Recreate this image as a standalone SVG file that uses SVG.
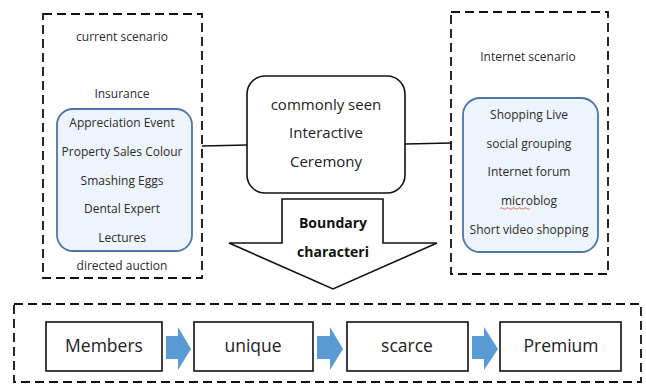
<svg xmlns="http://www.w3.org/2000/svg" width="646" height="385" viewBox="0 0 646 385">
<style>
.dash{fill:none;stroke:#111;stroke-width:1.8;stroke-dasharray:9 5}
.blue{fill:#eef4fb;stroke:#4d76a8;stroke-width:1.8}
.t{font-family:"Open Sans","Noto Sans",sans-serif;font-size:12px;fill:#2b2b2b;text-anchor:middle}
.c{font-family:"Open Sans","Noto Sans",sans-serif;font-size:15px;fill:#222;text-anchor:middle}
.b{font-family:"Open Sans","Noto Sans",sans-serif;font-size:14px;font-weight:bold;fill:#111;text-anchor:middle}
.box{fill:#fff;stroke:#111;stroke-width:1.6}
.bt{font-family:"Open Sans","Noto Sans",sans-serif;font-size:17.5px;fill:#222;text-anchor:middle}
.arr{fill:#5b9bd5}
.ln{fill:none;stroke:#111;stroke-width:1.6}
</style>
<rect width="646" height="385" fill="#fff"/>
<g id="current-scenario">
<rect class="dash" x="43" y="14" width="159" height="264"/>
<text class="t" x="122" y="41">current scenario</text>
<text class="t" x="122" y="98">Insurance</text>
<rect class="blue" x="57" y="109" width="135" height="142" rx="16"/>
<text class="t" x="122" y="127">Appreciation Event</text>
<text class="t" x="122" y="156">Property Sales Colour</text>
<text class="t" x="122" y="185">Smashing Eggs</text>
<text class="t" x="122" y="213">Dental Expert</text>
<text class="t" x="122" y="242">Lectures</text>
<text class="t" x="122" y="270">directed auction</text>
</g>
<g id="internet-scenario">
<rect class="dash" x="451" y="12" width="157" height="262"/>
<text class="t" x="528" y="61">Internet scenario</text>
<rect class="blue" x="463" y="98" width="135" height="154" rx="17"/>
<text class="t" x="529" y="119">Shopping Live</text>
<text class="t" x="529" y="148">social grouping</text>
<text class="t" x="529" y="176">Internet forum</text>
<text class="t" x="529" y="205">microblog</text>
<path d="M500 208.5 q1.5 -1.5 3 0 t3 0 t3 0 t3 0 t3 0 t3 0 t3 0 t3 0 t3 0 t3 0" fill="none" stroke="#e04040" stroke-width="0.8"/>
<text class="t" x="529" y="234">Short video shopping</text>
</g>
<g id="interactive-ceremony">
<rect class="box" x="247" y="76" width="158" height="117" rx="18"/>
<text class="c" x="326" y="110">commonly seen</text>
<text class="c" x="326" y="138">Interactive</text>
<text class="c" x="326" y="167">Ceremony</text>
</g>
<g id="boundary">
<path class="box" d="M282 199 H383 V243 H437 L333 289 L229 243 H282 Z"/>
<text class="b" x="333" y="228">Boundary</text>
<text class="b" x="333" y="257">characteri</text>
</g>
<g id="chain">
<rect class="dash" x="14" y="304" width="627" height="78"/>
<g id="members"><rect class="box" x="46" y="322" width="116" height="49"/><text class="bt" x="104" y="352">Members</text></g>
<g id="unique"><rect class="box" x="194" y="322" width="119" height="49"/><text class="bt" x="253" y="352">unique</text></g>
<g id="scarce"><rect class="box" x="347" y="322" width="121" height="49"/><text class="bt" x="407" y="352">scarce</text></g>
<g id="premium"><rect class="box" x="500" y="322" width="121" height="49"/><text class="bt" x="561" y="352">Premium</text></g>
</g>
<g id="connectors">
<path class="ln" d="M202 146 L247 145"/>
<path class="ln" d="M405 144 L451 143"/>
<path class="arr" d="M166 336 H178 V327 L191 349 L178 370 V359 H166 Z"/>
<path class="arr" d="M317 336 H330 V327 L343 349 L330 370 V359 H317 Z"/>
<path class="arr" d="M472 336 H484 V327 L498 349 L484 370 V359 H472 Z"/>
</g>
</svg>
